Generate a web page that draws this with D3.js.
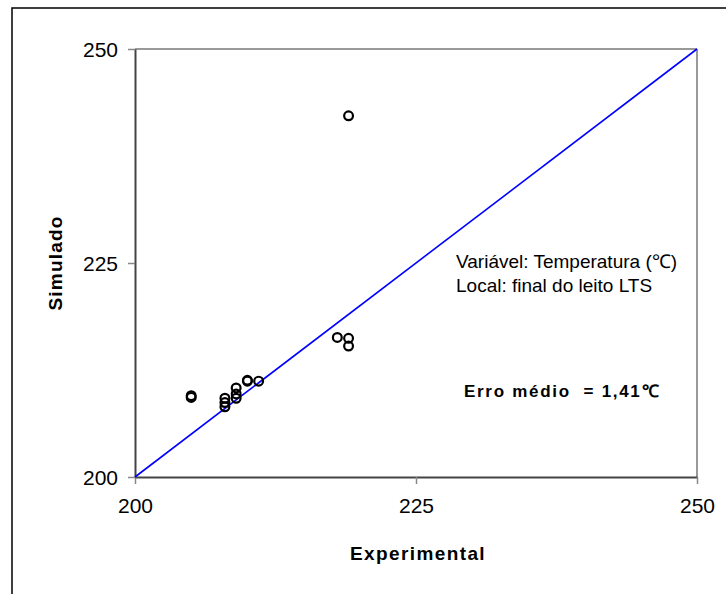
<!DOCTYPE html>
<html lang="pt">
    <head>
        <meta charset="utf-8">
        <title>Simulado x Experimental</title>
        <script src="https://d3js.org/d3.v7.min.js" charset="utf-8"></script>
        <style>
            body { margin: 0; background: #fff; }
            text { font-family: "Liberation Sans", Arial, sans-serif; fill: #000; }
        </style>
    </head>
    <body>
        <svg id="content" width="726" height="594"></svg>
        <script type="text/javascript">
            // valores
            var experimental = [205, 205, 208, 208, 208, 209, 209, 209, 210, 210, 211, 218, 219, 219, 219];
            var simulado     = [209.3, 209.5, 209.2, 208.2, 208.7, 210.4, 209.2, 209.7, 211.2, 211.3, 211.2, 216.3, 216.2, 215.3, 242.2];
            var xTicks = [200, 225, 250];
            var yTicks = [200, 225, 250];
            var dominio = [200, 250];

            var svg = d3.select("#content");

            // moldura externa
            svg.append("rect")
                .attr("x", 12).attr("y", 8)
                .attr("width", 740).attr("height", 620)
                .attr("fill", "none")
                .attr("stroke", "#000")
                .attr("stroke-width", 1.5);

            var x = d3.scaleLinear().domain(dominio).range([135, 697]);
            var y = d3.scaleLinear().domain(dominio).range([477, 49]);

            // bordas superior e direita da área do gráfico
            svg.append("line")
                .attr("x1", x(200)).attr("x2", x(250))
                .attr("y1", y(250)).attr("y2", y(250))
                .attr("stroke", "#999").attr("stroke-width", 2);
            svg.append("line")
                .attr("x1", x(250)).attr("x2", x(250))
                .attr("y1", y(250)).attr("y2", y(200))
                .attr("stroke", "#999").attr("stroke-width", 2);

            var xAxis = svg.append("g")
                .attr("transform", "translate(0," + y(200) + ")")
                .call(d3.axisBottom(x).tickValues(xTicks).tickSize(7).tickPadding(14).tickSizeOuter(0));
            var yAxis = svg.append("g")
                .attr("transform", "translate(" + x(200) + ",0)")
                .call(d3.axisLeft(y).tickValues(yTicks).tickSize(7).tickPadding(10).tickSizeOuter(0));

            [xAxis, yAxis].forEach(function(g){
                g.select(".domain").attr("stroke", "#444").attr("stroke-width", 2);
                g.selectAll(".tick line").attr("stroke", "#888").attr("stroke-width", 1.5);
                g.selectAll(".tick text")
                    .style("font-family", "'Liberation Sans', Arial, sans-serif")
                    .style("font-size", "21px")
                    .attr("fill", "#000");
            });
            yAxis.selectAll(".tick text").attr("dy", "0.36em");

            // linha y = x
            svg.append("line")
                .attr("x1", x(200)).attr("y1", y(200))
                .attr("x2", x(250)).attr("y2", y(250))
                .attr("stroke", "#0000ff").attr("stroke-width", 1.6);

            // pontos
            var pontos = experimental.map(function(d, i){ return { e: d, s: simulado[i] }; });
            svg.selectAll(".ponto")
                .data(pontos)
                .enter()
                .append("circle")
                .attr("class", "ponto")
                .attr("cx", function(d){ return x(d.e); })
                .attr("cy", function(d){ return y(d.s); })
                .attr("r", 4.4)
                .attr("fill", "none")
                .attr("stroke", "#000")
                .attr("stroke-width", 2.2);

            // títulos dos eixos
            svg.append("text")
                .attr("x", 418).attr("y", 560)
                .attr("text-anchor", "middle")
                .style("font-size", "19px").style("font-weight", "bold")
                .style("letter-spacing", "1.4px")
                .text("Experimental");
            svg.append("text")
                .attr("transform", "translate(62,263) rotate(-90)")
                .attr("text-anchor", "middle")
                .style("font-size", "19px").style("font-weight", "bold")
                .style("letter-spacing", "1.2px")
                .text("Simulado");

            // anotações
            svg.append("text")
                .attr("x", 456).attr("y", 268)
                .style("font-size", "19px")
                .text("Variável: Temperatura (℃)");
            svg.append("text")
                .attr("x", 456).attr("y", 292)
                .style("font-size", "19px")
                .text("Local: final do leito LTS");
            svg.append("text")
                .attr("x", 464).attr("y", 397)
                .style("font-size", "17px").style("font-weight", "bold")
                .style("letter-spacing", "1.7px")
                .attr("xml:space", "preserve")
                .text("Erro médio  = 1,41℃");
        </script>
    </body>
</html>
